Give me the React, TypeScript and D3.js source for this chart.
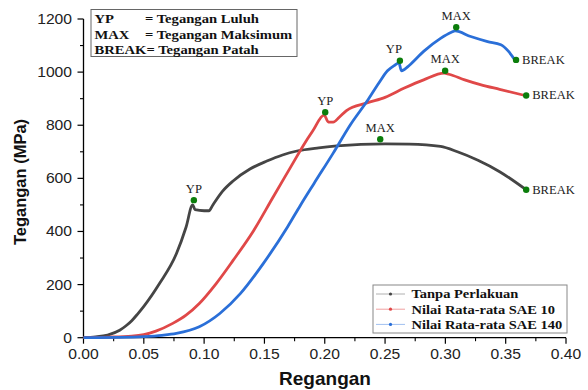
import React from "react";
import * as d3 from "d3";

// ---- data ----
const blackStrain = [0, 0.01, 0.02, 0.03, 0.035, 0.04, 0.045, 0.05, 0.063, 0.077, 0.085, 0.0905, 0.0925, 0.1, 0.104, 0.107, 0.115, 0.124, 0.138, 0.152, 0.165, 0.177, 0.195, 0.21, 0.23, 0.25, 0.27, 0.296, 0.31, 0.327, 0.345, 0.366];
const blackStress = [0, 3, 10, 28, 44, 64, 90, 118, 204, 316, 416, 500, 482, 478, 478, 498, 550, 590, 635, 665, 688, 703, 715, 722, 728, 730, 729, 720, 700, 668, 625, 560];

const redStrain = [0, 0.02, 0.04, 0.05, 0.06, 0.074, 0.085, 0.096, 0.11, 0.124, 0.141, 0.157, 0.166, 0.174, 0.182, 0.19, 0.1995, 0.203, 0.207, 0.212, 0.218, 0.235, 0.25, 0.266, 0.282, 0.299, 0.303, 0.316, 0.329, 0.345, 0.366];
const redStress = [0, 2, 6, 12, 25, 54, 85, 129, 204, 291, 403, 528, 598, 660, 722, 778, 838, 812, 812, 830, 855, 884, 905, 940, 971, 996, 992, 971, 953, 935, 912];

const blueStrain = [0, 0.03, 0.05, 0.065, 0.077, 0.096, 0.113, 0.13, 0.149, 0.169, 0.18, 0.191, 0.207, 0.221, 0.235, 0.245, 0.252, 0.258, 0.2615, 0.2635, 0.266, 0.27, 0.282, 0.296, 0.305, 0.308, 0.321, 0.335, 0.346, 0.352, 0.357];
const blueStress = [0, 1, 4, 9, 16, 41, 91, 166, 279, 416, 500, 580, 695, 800, 890, 960, 1005, 1026, 1035, 1005, 1010, 1025, 1078, 1127, 1150, 1155, 1134, 1115, 1103, 1080, 1050];

const seriesNames = ["Tanpa Perlakuan", "Nilai Rata-rata SAE 10", "Nilai Rata-rata SAE 140"];
const seriesColors = ["#454545", "#e04848", "#2a6fd8"];
const legendLineColors = ["#b0b0b0", "#f0a0a0", "#a0c0f0"];

// markers: [strain, stress, label]
const markerStrain = [0.0915, 0.246, 0.367, 0.2004, 0.2998, 0.367, 0.2623, 0.309, 0.3586];
const markerStress = [518, 747, 557, 849, 1005, 912, 1043, 1169, 1046];
const markerLabels = ["YP", "MAX", "BREAK", "YP", "MAX", "BREAK", "YP", "MAX", "BREAK"];

const xTicks = [0, 0.05, 0.1, 0.15, 0.2, 0.25, 0.3, 0.35, 0.4];
const yTicks = [0, 200, 400, 600, 800, 1000, 1200];

const noteKeys = ["YP", "MAX", "BREAK"];
const noteTexts = ["= Tegangan Luluh", "= Tegangan Maksimum", "= Tegangan Patah"];

const W = 588;
const H = 390;
const x = d3.scaleLinear().domain([0, 0.4]).range([83.5, 566]);
const y = d3.scaleLinear().domain([0, 1200]).range([337.7, 19]);

const serif = "'Liberation Serif', 'Times New Roman', serif";
const sans = "'Liberation Sans', Arial, sans-serif";

function ST({ x: tx, y: ty, sx = 1.15, children, ...rest }: any) {
  return (
    <g transform={`translate(${tx},${ty}) scale(${sx},1)`}>
      <text x={0} y={0} {...rest}>{children}</text>
    </g>
  );
}

export default function App() {
  const line = d3
    .line<[number, number]>()
    .x((d) => x(d[0]))
    .y((d) => y(d[1]))
    .curve(d3.curveMonotoneX);

  const series = [
    blackStrain.map((s, i) => [s, blackStress[i]] as [number, number]),
    redStrain.map((s, i) => [s, redStress[i]] as [number, number]),
    blueStrain.map((s, i) => [s, blueStress[i]] as [number, number]),
  ];

  const xMinor = d3.range(0, 0.4001, 0.025).filter((_, i) => i % 2 === 1);
  const yMinor = d3.range(100, 1200, 200);

  return (
    <svg width={W} height={H} style={{ position: "absolute", left: 0, top: 0, background: "#fff" }}>
      {/* axes */}
      <line x1={x(0)} x2={x(0)} y1={y(0)} y2={y(1200)} stroke="#000" strokeWidth={1.3} />
      <line x1={x(0)} x2={x(0.4)} y1={y(0)} y2={y(0)} stroke="#000" strokeWidth={1.3} />
      {yTicks.map((t) => (
        <g key={"yt" + t}>
          <line x1={x(0) - 6} x2={x(0)} y1={y(t)} y2={y(t)} stroke="#000" strokeWidth={1.2} />
          <ST x={72} y={y(t) + 5} sx={1.08} textAnchor="end" fontFamily={sans} fontSize={14.5} fill="#222">
            {t}
          </ST>
        </g>
      ))}
      {yMinor.map((t) => (
        <line key={"ym" + t} x1={x(0) - 3.5} x2={x(0)} y1={y(t)} y2={y(t)} stroke="#000" strokeWidth={1.1} />
      ))}
      {xTicks.map((t) => (
        <g key={"xt" + t}>
          <line x1={x(t)} x2={x(t)} y1={y(0)} y2={y(0) + 6} stroke="#000" strokeWidth={1.2} />
          <ST x={x(t)} y={359} sx={1.08} textAnchor="middle" fontFamily={sans} fontSize={14.5} fill="#222">
            {t.toFixed(2)}
          </ST>
        </g>
      ))}
      {xMinor.map((t) => (
        <line key={"xm" + t} x1={x(t)} x2={x(t)} y1={y(0)} y2={y(0) + 3.5} stroke="#000" strokeWidth={1.1} />
      ))}
      <text x={325} y={385} textAnchor="middle" fontFamily={sans} fontWeight="bold" fontSize={19} fill="#111">
        Regangan
      </text>
      <text
        transform={`translate(26,182) rotate(-90)`}
        textAnchor="middle"
        fontFamily={sans}
        fontWeight="bold"
        fontSize={16.5}
        fill="#111"
      >
        Tegangan (MPa)
      </text>

      {/* curves */}
      {series.map((s, i) => (
        <path key={"s" + i} d={line(s) || ""} fill="none" stroke={seriesColors[i]} strokeWidth={2.8} strokeLinejoin="round" />
      ))}

      {/* markers */}
      {markerStrain.map((s, i) => {
        const px = x(s);
        const py = y(markerStress[i]);
        const lab = markerLabels[i];
        return (
          <g key={"m" + i}>
            <circle cx={px} cy={py} r={3.2} fill="#0b7d0b" />
            {lab === "BREAK" ? (
              <ST x={px + 6} y={py + 4} sx={1.05} fontFamily={serif} fontSize={12} fill="#222">
                {lab}
              </ST>
            ) : (
              <ST x={px - (i === 6 ? 6 : 0)} y={py - 7.5} sx={1.05} textAnchor="middle" fontFamily={serif} fontSize={12} fill="#222">
                {lab}
              </ST>
            )}
          </g>
        );
      })}

      {/* notes box */}
      <rect x={91} y={9.5} width={206} height={47} fill="#fff" stroke="#666" strokeWidth={1} />
      {noteKeys.map((k, i) =>
        k === "BREAK" ? (
          <ST key={"n" + i} x={94.5} y={22.7 + i * 15.8} sx={1.17} fontFamily={serif} fontWeight="bold" fontSize={12.5} fill="#111">
            {k + noteTexts[i]}
          </ST>
        ) : (
          <g key={"n" + i}>
            <ST x={94.5} y={22.7 + i * 15.8} sx={1.17} fontFamily={serif} fontWeight="bold" fontSize={12.5} fill="#111">
              {k}
            </ST>
            <ST x={145} y={22.7 + i * 15.8} sx={1.17} fontFamily={serif} fontWeight="bold" fontSize={12.5} fill="#111">
              {noteTexts[i]}
            </ST>
          </g>
        )
      )}

      {/* legend */}
      <rect x={373} y={285} width={194} height={48} fill="#fff" stroke="#888" strokeWidth={1} />
      {seriesNames.map((n, i) => {
        const cy = 294 + i * 15.2;
        return (
          <g key={"l" + i}>
            <line x1={376} x2={405} y1={cy} y2={cy} stroke={legendLineColors[i]} strokeWidth={1} />
            <circle cx={390.5} cy={cy} r={1.6} fill={seriesColors[i]} />
            <ST x={411.5} y={cy + 4.3} sx={1.16} fontFamily={serif} fontWeight="bold" fontSize={12.5} fill="#111">
              {n}
            </ST>
          </g>
        );
      })}
    </svg>
  );
}
